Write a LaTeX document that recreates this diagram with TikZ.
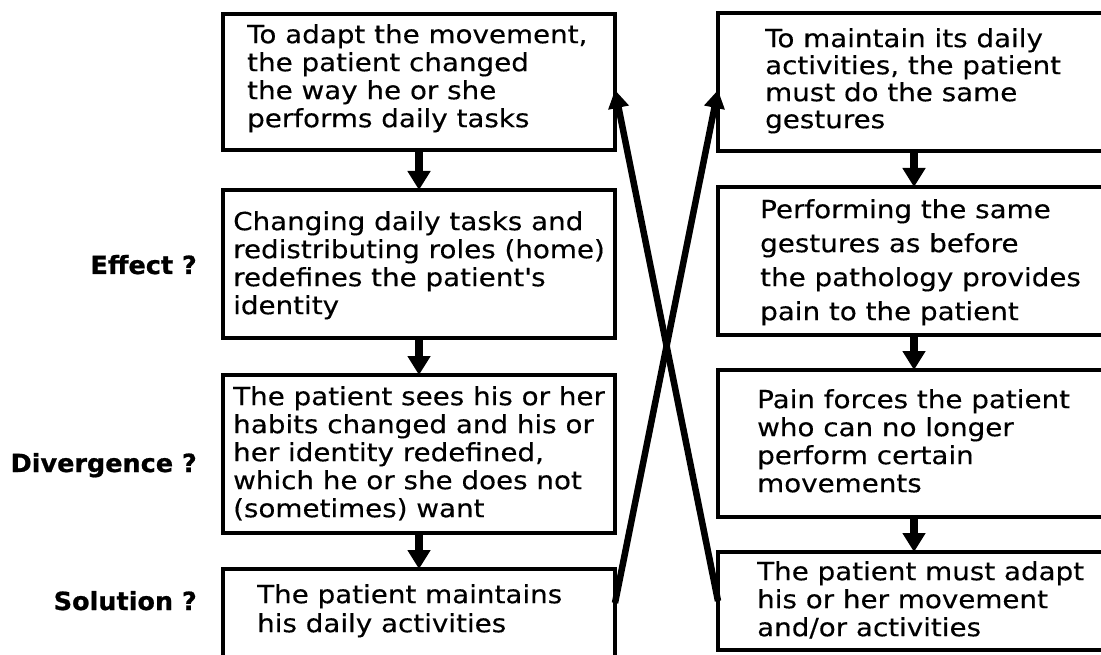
\documentclass[tikz,border=0pt]{standalone}
\usepackage{fontspec}
\setmainfont{DejaVu Sans}[FakeStretch=1.11,FakeBold=0.35]
\newfontfamily\labfont{DejaVu Sans}[BoldFeatures={FakeBold=0.8,FakeStretch=1.02}]
\usetikzlibrary{arrows.meta,calc}
\begin{document}
\begin{tikzpicture}[x=1pt,y=-1pt,
  box/.style={draw, line width=4pt, minimum width=392pt, inner sep=0pt, outer sep=0pt},
  txt/.style={anchor=north west, align=left, inner sep=0pt},
  lab/.style={anchor=base east, inner sep=0pt, font=\fontsize{25}{28}\labfont\bfseries},
  down/.style={line width=8pt, -{Triangle[length=19pt,width=22pt]}},
  cross/.style={line width=6.5pt, -{Triangle[length=18pt,width=20pt]}}]
\useasboundingbox (0,0) rectangle (1101,655);
\clip (0,0) rectangle (1101,655);
% left column
\node[box, minimum height=136pt] (L1) at (419,82) {};
\node[box, minimum height=148pt] (L2) at (419,264) {};
\node[box, minimum height=158pt] (L3) at (419,454) {};
\node[box, minimum height=131pt] (L4) at (419,634.5) {};
% right column
\node[box, minimum height=138pt] (R1) at (914,82) {};
\node[box, minimum height=148pt] (R2) at (914,261) {};
\node[box, minimum height=147pt] (R3) at (914,443.5) {};
\node[box, minimum height=98pt] (R4) at (914,601) {};
% texts
\node[txt, font=\fontsize{25}{28}\selectfont] (T1) at (247,24) {To adapt the movement,\\the patient changed\\the way he or she\\performs daily tasks};
\node[txt, font=\fontsize{25}{28}\selectfont] (T2) at (233,211) {Changing daily tasks and\\redistributing roles (home)\\redefines the patient\textquotesingle s\\identity};
\node[txt, font=\fontsize{25}{28}\selectfont] (T3) at (233,386) {The patient sees his or her\\habits changed and his or\\her identity redefined,\\which he or she does not\\(sometimes) want};
\node[txt, font=\fontsize{25}{29}\selectfont] (T4) at (257,584) {The patient maintains\\his daily activities};
\node[txt, font=\fontsize{25}{27}\selectfont] (U1) at (765,28) {To maintain its daily\\activities, the patient\\must do the same\\gestures};
\node[txt, font=\fontsize{25}{34}\selectfont] (U2) at (760,199) {Performing the same\\gestures as before\\the pathology provides\\pain to the patient};
\node[txt, font=\fontsize{25}{28}\selectfont] (U3) at (757,389) {Pain forces the patient\\who can no longer\\perform certain\\movements};
\node[txt, font=\fontsize{25}{28}\selectfont] (U4) at (757,561) {The patient must adapt\\his or her movement\\and/or activities};
% side labels
\node[lab] (E) at (197,274) {Effect ?};
\node[lab] (D) at (197,472) {Divergence ?};
\node[lab] (S) at (197,610) {Solution ?};
% down arrows
\draw[down] (L1.south) -- (L2.north);
\draw[down] (L2.south) -- (L3.north);
\draw[down] (L3.south) -- (L4.north);
\draw[down] (R1.south) -- (R2.north);
\draw[down] (R2.south) -- (R3.north);
\draw[down] (R3.south) -- (R4.north);
% crossing arrows
\coordinate (a1) at ($(L4.north east)+(0,34)$);
\coordinate (b1) at ($(R1.north west)+(0,77)$);
\coordinate (a2) at ($(R4.north west)+(0,49)$);
\coordinate (b2) at ($(L1.north east)+(0,76)$);
\draw[cross] (a1) -- (b1);
\draw[cross] (a2) -- (b2);
\end{tikzpicture}
\end{document}
